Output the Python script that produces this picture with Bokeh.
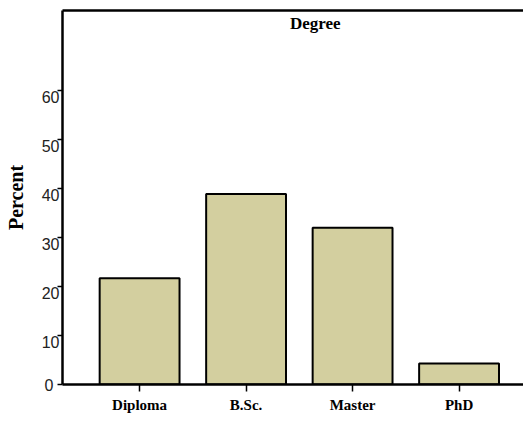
from bokeh.plotting import figure
from bokeh.models import Range1d, FixedTicker, LinearAxis, Label, ColumnDataSource
from bokeh.embed import file_html
from bokeh.resources import INLINE

categories = ["Diploma", "B.Sc.", "Master", "PhD"]
percent = [21.7, 38.9, 32.0, 4.3]
y_ticks = [0, 10, 20, 30, 40, 50, 60]
y_tick_labels = ["0", "10", "20", "30", "40", "50", "60"]
title_text = "Degree"
y_title = "Percent"

Y_END = 76.4
LABEL_SHIFT = 1.33   # tick labels sit just below their tick (in data units)

xs = list(range(len(categories)))
src = ColumnDataSource(dict(x=xs, top=percent, cat=categories))

p = figure(width=523, height=415, output_backend="svg", toolbar_location=None,
           x_range=Range1d(-0.724, 3.605), y_range=Range1d(0, Y_END),
           y_axis_location=None,
           min_border_left=62, min_border_right=0, min_border_top=10, min_border_bottom=29)
p.extra_y_ranges = {"labels": Range1d(LABEL_SHIFT, Y_END + LABEL_SHIFT)}
p.outline_line_color = None
p.xgrid.visible = False
p.ygrid.visible = False
p.background_fill_color = "white"
p.border_fill_color = "white"

p.vbar(x="x", top="top", width=0.75, source=src, fill_color="#D3CF9F",
       line_color="black", line_width=2)

SERIF = "Liberation Serif"
SANS = "Liberation Sans"

xa = p.xaxis[0]
xa.ticker = FixedTicker(ticks=xs)
xa.major_label_overrides = {i: c for i, c in zip(xs, categories)}
xa.minor_tick_line_color = None
xa.major_tick_in = 0
xa.major_tick_out = 7
xa.major_tick_line_width = 1.5
xa.axis_line_width = 2.5
xa.major_label_standoff = 5
xa.major_label_text_font = SERIF
xa.major_label_text_font_style = "bold"
xa.major_label_text_font_size = "15px"
xa.major_label_text_color = "black"

# inner left axis: the axis line, tick marks and the "0" label
tick_axis = LinearAxis(
    ticker=FixedTicker(ticks=y_ticks[:1], minor_ticks=y_ticks[1:]),
    major_label_overrides={y_ticks[0]: y_tick_labels[0]},
    major_tick_in=0, major_tick_out=5, major_tick_line_width=1.5,
    minor_tick_in=0, minor_tick_out=5, minor_tick_line_width=1.5,
    minor_tick_line_color="black",
    axis_line_width=2.5, major_label_standoff=4,
    major_label_text_font=SANS, major_label_text_font_size="16px",
    major_label_text_color="#222222")
p.add_layout(tick_axis, "left")

# outer left axis: the other tick labels (just below their ticks) and the title
label_axis = LinearAxis(
    y_range_name="labels",
    ticker=FixedTicker(ticks=y_ticks[1:]),
    major_label_overrides={t: l for t, l in zip(y_ticks[1:], y_tick_labels[1:])},
    major_tick_in=0, major_tick_out=0, minor_tick_in=0, minor_tick_out=0,
    axis_line_color=None, major_label_standoff=-18,
    major_label_text_font=SANS, major_label_text_font_size="16px",
    major_label_text_color="#222222",
    axis_label=y_title, axis_label_standoff=12,
    axis_label_text_font=SERIF, axis_label_text_font_style="bold",
    axis_label_text_font_size="20px", axis_label_text_color="black")
p.add_layout(label_axis, "left")

top_axis = LinearAxis(ticker=FixedTicker(ticks=[]), major_tick_in=0, major_tick_out=0,
                      minor_tick_in=0, minor_tick_out=0,
                      major_label_text_color=None, axis_line_width=2.5)
p.add_layout(top_axis, "above")

p.add_layout(Label(x=1.65, y=75.6, text=title_text, text_align="center",
                   text_baseline="top", text_font=SERIF, text_font_style="bold",
                   text_font_size="17px", text_color="black"))

open("out.html", "w").write(file_html(p, INLINE))
